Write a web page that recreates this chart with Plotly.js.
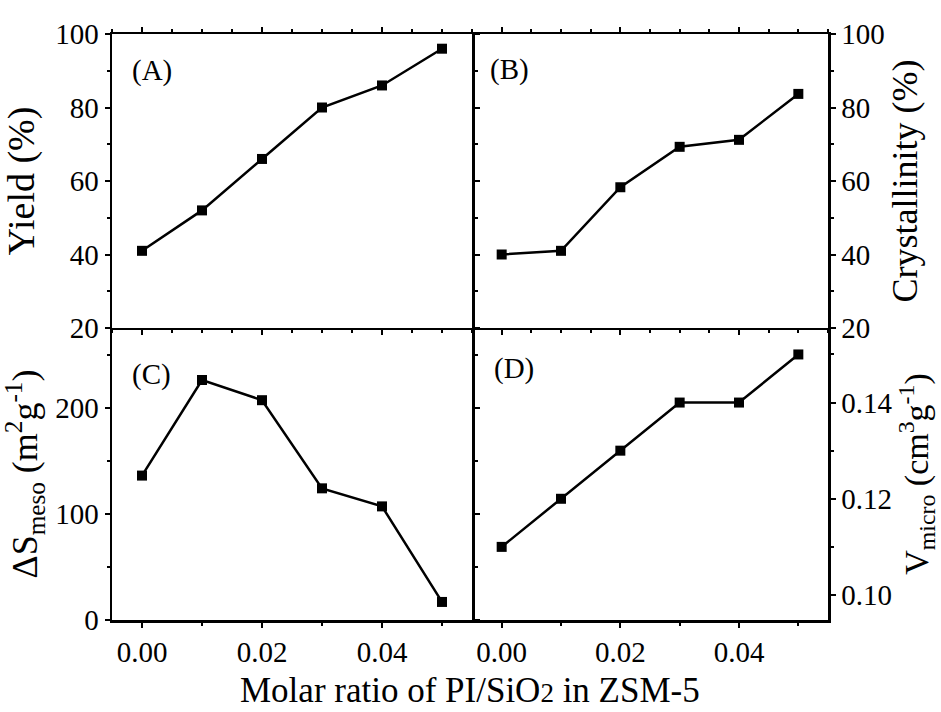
<!DOCTYPE html>
<html>
<head>
<meta charset="utf-8">
<script src="https://cdn.plot.ly/plotly-3.0.1.min.js"></script>
<style>html,body{margin:0;padding:0;background:#fff;}#chart{width:941px;height:712px;}</style>
</head>
<body>
<div id="chart"></div>
<script>
var molarRatio = [0.00, 0.01, 0.02, 0.03, 0.04, 0.05];
var yieldPct = [41, 52, 66, 80, 86, 96];
var crystallinityPct = [40, 41, 58.3, 69.3, 71.2, 83.7];
var deltaSmeso = [136, 226, 207, 124, 107, 17];
var vMicro = [0.11, 0.12, 0.13, 0.14, 0.14, 0.15];
var panelLabels = ['(A)', '(B)', '(C)', '(D)'];
var xTitle = 'Molar ratio of PI/SiO<span style="font-size:27px">2</span> in ZSM-5';
var yTitles = ['Yield (%)', 'Crystallinity (%)', '\u0394S<sub>meso</sub> (m<sup>2</sup>g<sup>-1</sup>)', 'V<sub>micro</sub> (cm<sup>3</sup>g<sup>-1</sup>)'];

var FONT = '"Liberation Serif", "Times New Roman", serif';
var series = [yieldPct, crystallinityPct, deltaSmeso, vMicro];
var axIds = [['x','y'],['x2','y2'],['x3','y3'],['x4','y4']];
var traces = series.map(function(s,i){
  return {x: molarRatio, y: s, xaxis: axIds[i][0], yaxis: axIds[i][1], type:'scatter', mode:'lines+markers',
    line:{color:'#000', width:2.5}, marker:{symbol:'square', size:10, color:'#000'}, showlegend:false, hoverinfo:'x+y'};
});

var xL = [0, 0.5028], xR = [0.5028, 1], yT = [0.4983, 1], yB = [0, 0.4983];
function xax(dom, anchor, labels, minorD, mirror){
  return {domain: dom, anchor: anchor, range:[-0.005, 0.055], tick0:0, dtick:0.02, tickformat:'.2f',
    showticklabels: labels, ticks:'outside', ticklen:5, tickwidth:2, tickcolor:'#000',
    minor:{dtick:minorD, tick0:0, ticks:'outside', ticklen:3, tickwidth:2, tickcolor:'#000'},
    showline:true, linewidth:2.5, linecolor:'#000', mirror: mirror, showgrid:false, zeroline:false,
    tickfont:{family:FONT, size:29, color:'#000'}, fixedrange:true};
}
function yax(dom, anchor, side, range, dtick, minorD, tick0, fmt, title, tsize, mirror, standoff){
  return {domain: dom, anchor: anchor, side: side, range: range, tick0: tick0, dtick: dtick, tickformat: fmt,
    ticks:'outside', ticklen:5, tickwidth:2, tickcolor:'#000',
    minor:{dtick:minorD, tick0:tick0, ticks:'outside', ticklen:3, tickwidth:2, tickcolor:'#000'},
    showline:true, linewidth:2.5, linecolor:'#000', mirror: mirror, showgrid:false, zeroline:false,
    tickfont:{family:FONT, size:29, color:'#000'},
    title:{text: title, font:{family:FONT, size:tsize, color:'#000'}, standoff: standoff}, fixedrange:true};
}

var layout = {
  width:941, height:712,
  margin:{l:112, r:113, t:34, b:92},
  paper_bgcolor:'#fff', plot_bgcolor:'#fff',
  font:{family:FONT, color:'#000'},
  xaxis: xax(xL, 'y', false, 0.005, 'ticks'),
  yaxis: yax(yT, 'x', 'left', [20,100], 20, 10, 20, '', yTitles[0], 38, 'ticks', 24),
  xaxis2: xax(xR, 'y2', false, 0.005, 'ticks'),
  yaxis2: yax(yT, 'x2', 'right', [20,100], 20, 10, 20, '', yTitles[1], 36, false, 8),
  xaxis3: xax(xL, 'y3', true, 0.01, false),
  yaxis3: yax(yB, 'x3', 'left', [0,275], 100, 50, 0, '', yTitles[2], 36, 'ticks', 12),
  xaxis4: xax(xR, 'y4', true, 0.01, false),
  yaxis4: yax(yB, 'x4', 'right', [0.0948,0.1555], 0.02, 0.01, 0.1, '.2f', yTitles[3], 34, false, 2),
  annotations: [
    {text: xTitle, xref:'paper', yref:'paper', x:0.5, y:-0.121, xanchor:'center', yanchor:'middle', showarrow:false,
     font:{family:FONT, size:35, color:'#000'}}
  ]
};
var labelPos = [[0.05, 0.877], [0.045, 0.88], [0.05, 0.84], [0.056, 0.86]];
var doms = [['x','y'],['x2','y2'],['x3','y3'],['x4','y4']];
panelLabels.forEach(function(t,i){
  layout.annotations.push({text:t, xref: doms[i][0]+' domain', yref: doms[i][1]+' domain', x:labelPos[i][0], y:labelPos[i][1],
    xanchor:'left', yanchor:'middle', showarrow:false, font:{family:FONT, size:29, color:'#000'}});
});

Plotly.newPlot('chart', traces, layout, {displayModeBar:false, staticPlot:true});
</script>
</body>
</html>
